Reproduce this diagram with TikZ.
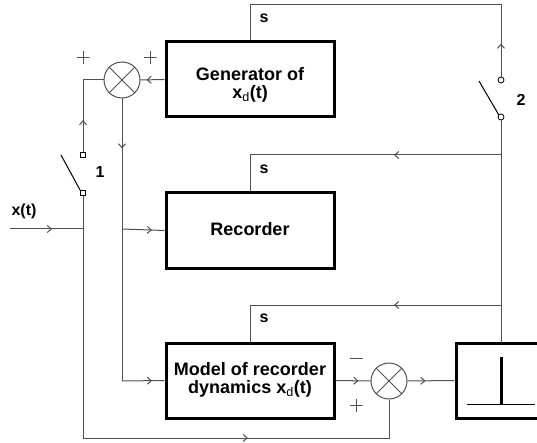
\documentclass[tikz,border=0pt]{standalone}
\usepackage{fontspec}
\setmainfont{Liberation Sans}
\usetikzlibrary{decorations.markings,arrows.meta,calc}
\definecolor{wirecol}{RGB}{80,80,80}
\tikzset{
  wire/.style={draw=wirecol,line width=1pt},
  fwd/.style={decoration={markings,mark=at position #1 with
      {\arrow{Straight Barb[length=4pt,width=7pt,color=wirecol]}}},postaction={decorate}},
  block/.style={draw=black,line width=3pt,minimum width=168pt,minimum height=75pt,
      inner sep=0pt},
  lbl/.style={font=\bfseries\fontsize{18}{19}\selectfont,align=center,inner sep=0pt},
  small/.style={font=\bfseries\fontsize{16}{18}\selectfont,inner sep=0pt},
  plussign/.style={rectangle,minimum size=13pt,inner sep=0pt,
      path picture={\draw[wirecol,line width=1pt]
        (path picture bounding box.west) -- (path picture bounding box.east)
        (path picture bounding box.north) -- (path picture bounding box.south);}},
  minussign/.style={rectangle,minimum size=13pt,inner sep=0pt,
      path picture={\draw[wirecol,line width=1pt]
        (path picture bounding box.west) -- (path picture bounding box.east);}},
  summer/.style={circle,draw=wirecol,line width=1pt,minimum size=36pt,inner sep=0pt,
      path picture={\draw[wirecol,line width=1pt]
        (path picture bounding box.north west) -- (path picture bounding box.south east)
        (path picture bounding box.north east) -- (path picture bounding box.south west);}},
  sqcontact/.style={rectangle,draw=black,fill=white,line width=0.8pt,minimum size=5pt,inner sep=0pt},
  rdcontact/.style={circle,draw=black,fill=white,line width=0.8pt,minimum size=6pt,inner sep=0pt},
  blade/.style={draw=black,line width=1pt},
}
\newcommand{\xd}{x\textsubscript{\mdseries d}(t)}
\begin{document}
\begin{tikzpicture}[x=1pt,y=-1pt]
\useasboundingbox (0,0) rectangle (537,443);
\clip (0,0) rectangle (537,443);
\fill[white] (0,0) rectangle (537,443);

% blocks
\node[block] (gen) at (250,79.5) {};
\node[lbl] (gentext) at (250,85) {Generator of\\[-1pt]\xd};
\node[block] (rec) at (250,230.5) {};
\node[lbl] (rectext) at (250,229) {Recorder};
\node[block] (mod) at (250,380.5) {};
\node[lbl] (modtext) at (250,380) {Model of recorder\\[-1pt]dynamics \xd};
\node[block] (disp) at (540,380.5) {};
\coordinate (spiketop) at (501,357);
\coordinate (spikebot) at (501,404);
\coordinate (baseL) at (467,404);
\coordinate (baseR) at (535,404);
\draw[black,line width=1pt] (baseL) -- (baseR);
\draw[black,line width=3pt] (spiketop) -- (spikebot);

% summing junctions and their signs
\node[summer] (sum1) at (122,80) {};
\node[summer] (sum2) at (389,381) {};
\node[plussign] (p1) at (83,58) {};
\node[plussign] (p2) at (150,58) {};
\node[minussign] (m3) at (356,358) {};
\node[plussign] (p3) at (356,405) {};

% switch 1
\node[sqcontact] (c1a) at (83,155) {};
\node[sqcontact] (c1b) at (83,193) {};
\coordinate (bl1) at (61,155);
\node[small] (n1) at (100,172) {1};

% switch 2
\node[rdcontact] (c2a) at (501,80) {};
\node[rdcontact] (c2b) at (501,117) {};
\coordinate (bl2) at (479,81);
\node[small] (n2) at (521,100) {2};

% junction points
\coordinate (xin) at (10,229);
\coordinate (jin) at (83,229);
\coordinate (jrec) at (122,229);
\coordinate (jmod) at (122,381);
\coordinate (bl) at (83,438);
\coordinate (br) at (389,438);
\coordinate (rt) at (501,5);
\coordinate (r1) at (501,155);
\coordinate (r2) at (501,305);
\coordinate (dtop) at (501,343);

% input
\node[small] (xlab) at (24,211) {x(t)};
\draw[wire,fwd=42pt] (xin) -- (jin);

% feedback path through switch 1
\draw[wire,fwd=18pt] (gen.west) -- (sum1.east);
\draw[wire,fwd=32pt] (c1a.north) |- (sum1.west);
\draw[blade] (c1b.north west) -- (bl1);
\draw[wire,fwd=407pt] (c1b.south) -- (bl) -- (br) -- (sum2.south);

% sum 1 output
\draw[wire,fwd=50pt] (sum1.south) -- (jmod);
\draw[wire,fwd=30pt] (jmod) -- (mod.west);
\draw[wire,fwd=30pt] (jrec) -- (rec.west);

% error path
\draw[wire,fwd=23pt] (mod.east) -- (sum2.west);
\draw[wire,fwd=18pt] (sum2.east) -- (disp.west);

% start pulses s
\draw[wire,fwd=33pt] (c2a.north) -- (rt) -| (gen.north);
\draw[blade] (c2b.north west) -- (bl2);
\draw[wire] (c2b.south) -- (dtop);
\draw[wire,fwd=107pt] (r1) -| (rec.north);
\draw[wire,fwd=107pt] (r2) -| (mod.north);
\node[small] (s1) at (264,18) {s};
\node[small] (s2) at (264,169) {s};
\node[small] (s3) at (264,318) {s};
\end{tikzpicture}
\end{document}
